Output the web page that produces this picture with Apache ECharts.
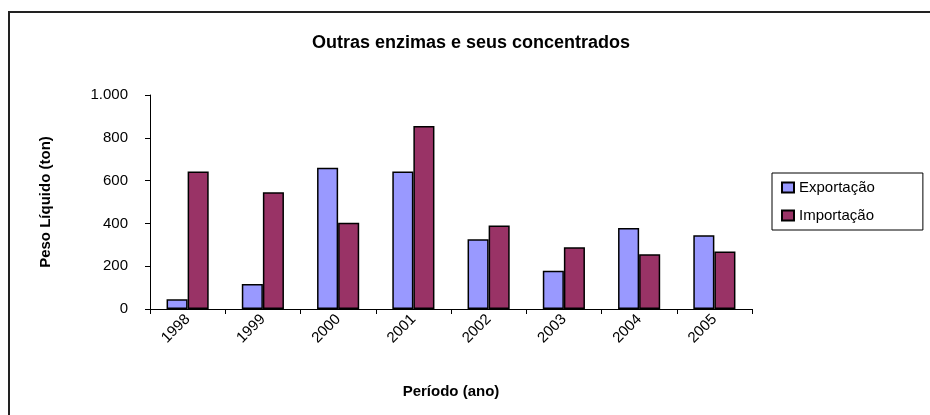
<!DOCTYPE html>
<html>
<head>
<meta charset="utf-8">
<script src="https://cdn.jsdelivr.net/npm/echarts@6/dist/echarts.min.js"></script>
<style>
  html, body { margin: 0; padding: 0; background: #fff; }
  #chart { width: 930px; height: 415px; }
</style>
</head>
<body>
<div id="chart"></div>
<script>
// dados
const anos = ['1998', '1999', '2000', '2001', '2002', '2003', '2004', '2005'];
const exportacao = [45, 117, 660, 642, 326, 179, 379, 345];
const importacao = [642, 545, 403, 855, 390, 289, 256, 269];
const yTicks = [0, 200, 400, 600, 800, 1000];

const fonte = 'Arial, "Liberation Sans", sans-serif';

const chart = echarts.init(document.getElementById('chart'));

// formata 1000 -> 1.000
const fmtNum = v => String(v).replace(/\B(?=(\d{3})+(?!\d))/g, '.');

const option = {
  backgroundColor: '#fff',
  animation: false,
  title: {
    text: 'Outras enzimas e seus concentrados',
    left: 466,
    textAlign: 'center',
    top: 29,
    textStyle: { fontFamily: fonte, fontSize: 18, fontWeight: 'bold', color: '#000' }
  },
  graphic: [
    {
      type: 'rect',
      shape: { x: 9, y: 12, width: 1000, height: 1000 },
      style: { fill: 'none', stroke: '#222', lineWidth: 2 },
      silent: true
    }
  ],
  legend: {
    orient: 'vertical',
    left: 772,
    top: 173,
    itemWidth: 12,
    itemHeight: 10,
    itemGap: 13,
    padding: [7, 48, 7, 9],
    borderColor: '#000',
    borderWidth: 1,
    icon: 'rect',
    textStyle: { fontFamily: fonte, fontSize: 15, color: '#000' },
    data: ['Exportação', 'Importação']
  },
  grid: { left: 150, right: 178, top: 95, bottom: 106, containLabel: false },
  xAxis: {
    type: 'category',
    data: anos,
    name: 'Período (ano)',
    nameLocation: 'middle',
    nameGap: 75,
    nameTextStyle: { fontFamily: fonte, fontSize: 15, fontWeight: 'bold', color: '#000' },
    axisLine: { lineStyle: { color: '#000', width: 1 } },
    axisTick: { show: true, length: 5, lineStyle: { color: '#000' } },
    axisLabel: {
      rotate: 45,
      margin: 8,
      fontFamily: fonte,
      fontSize: 15,
      color: '#000'
    }
  },
  yAxis: {
    type: 'value',
    min: yTicks[0],
    max: yTicks[yTicks.length - 1],
    interval: 200,
    name: 'Peso Líquido (ton)',
    nameLocation: 'middle',
    nameGap: 97,
    nameTextStyle: { fontFamily: fonte, fontSize: 15, fontWeight: 'bold', color: '#000' },
    axisLine: { show: true, lineStyle: { color: '#000', width: 1 } },
    axisTick: { show: true, length: 5, lineStyle: { color: '#000' } },
    splitLine: { show: false },
    axisLabel: {
      margin: 22,
      fontFamily: fonte,
      fontSize: 15,
      color: '#000',
      formatter: v => fmtNum(v)
    }
  },
  series: [
    {
      name: 'Exportação',
      type: 'bar',
      data: exportacao,
      barGap: '0%',
      barCategoryGap: '44%',
      itemStyle: { color: '#9999FF', borderColor: '#000', borderWidth: 1.5 }
    },
    {
      name: 'Importação',
      type: 'bar',
      data: importacao,
      barGap: '0%',
      barCategoryGap: '44%',
      itemStyle: { color: '#993366', borderColor: '#000', borderWidth: 1.5 }
    }
  ]
};

chart.setOption(option);
</script>
</body>
</html>
